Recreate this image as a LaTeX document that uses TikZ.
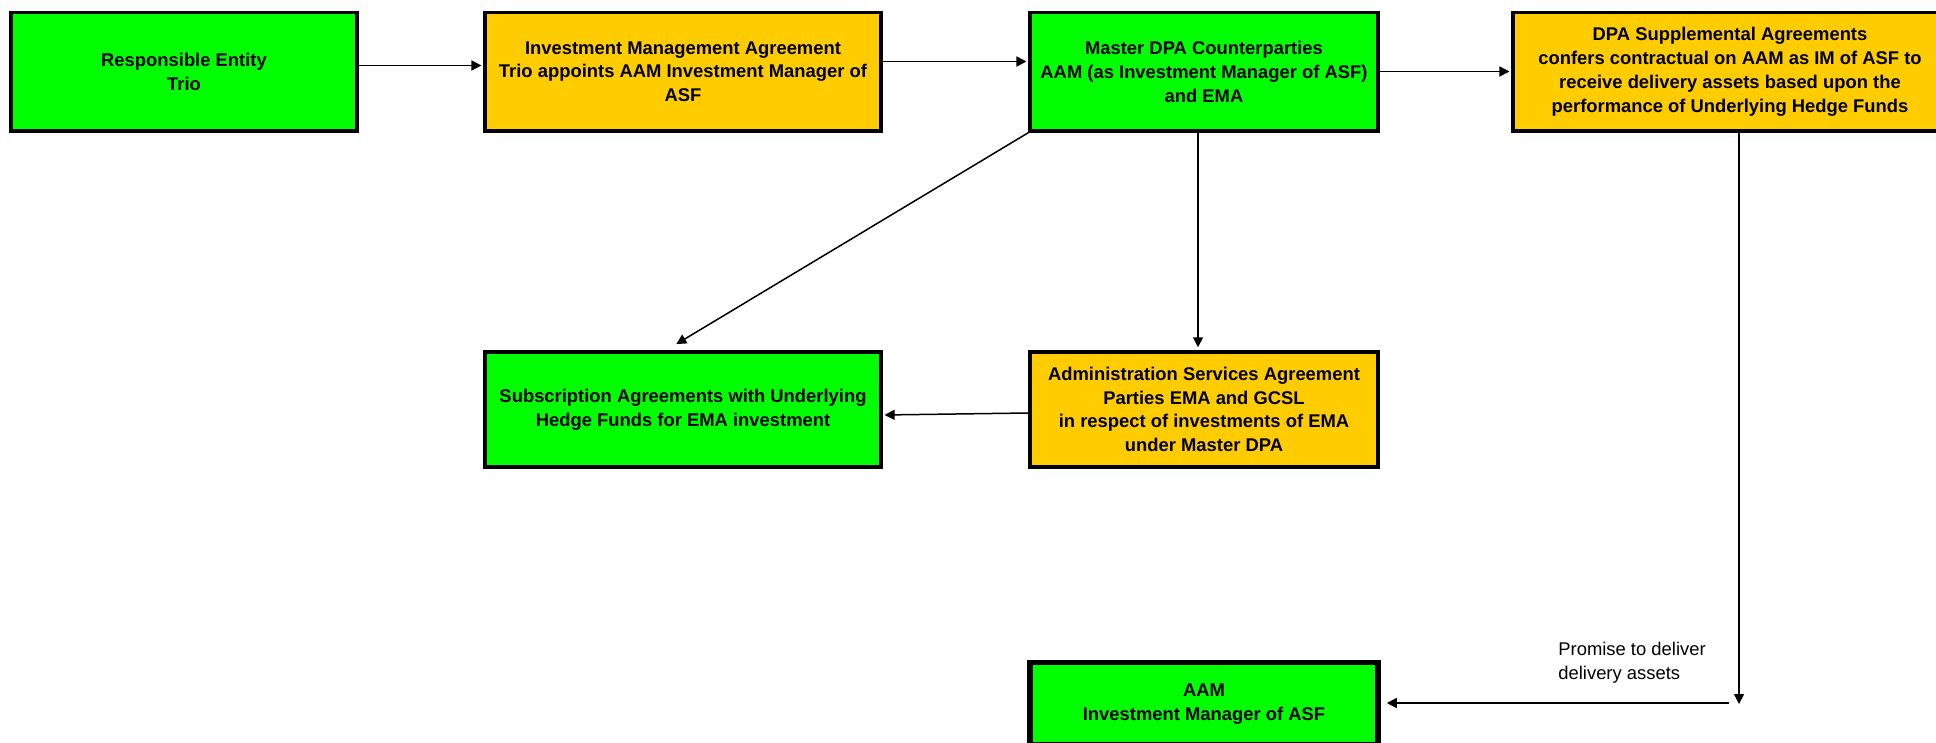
\documentclass[tikz,border=0pt]{standalone}
\usepackage{fontspec}
\setmainfont{Liberation Sans}
\usetikzlibrary{arrows.meta}
\definecolor{boxgreen}{HTML}{00FF00}
\definecolor{boxorange}{HTML}{FFCC00}
\tikzset{
  box/.style={draw=black, line width=1.75pt, align=center, inner sep=0pt,
    font=\fontsize{9.2}{11.9}\selectfont\bfseries, text=black},
  gbox/.style={box, fill=boxgreen},
  obox/.style={box, fill=boxorange},
  arr/.style={line width=0.75pt, -{Triangle[length=5pt,width=5pt]}},
  lbl/.style={align=left, inner sep=0pt, font=\fontsize{9.2}{11.9}\selectfont}
}
\begin{document}
\begin{tikzpicture}[x=0.5pt,y=-0.5pt]
\clip (0,0) rectangle (1936,743);
\fill[white] (0,0) rectangle (1936,743);
% row 1
\node[gbox, minimum width=173pt, minimum height=59.25pt] (b1) at (184,71.75)
  {Responsible Entity\\Trio};
\node[obox, minimum width=198pt, minimum height=59.25pt] (b2) at (683,71.75)
  {Investment Management Agreement\\Trio appoints AAM Investment Manager of\\ASF};
\node[gbox, minimum width=174pt, minimum height=59.25pt] (b3) at (1204,71.75)
  {Master DPA Counterparties\\AAM (as Investment Manager of ASF)\\and EMA};
\node[obox, minimum width=217pt, minimum height=59.25pt] (b4) at (1730,71.75)
  {DPA Supplemental Agreements\\confers contractual on AAM as IM of ASF to\\receive delivery assets based upon the\\performance of Underlying Hedge Funds};
% row 2
\node[gbox, minimum width=198pt, minimum height=57.5pt] (b5) at (683,409.5)
  {Subscription Agreements with Underlying\\Hedge Funds for EMA investment};
\node[obox, minimum width=174pt, minimum height=57.5pt] (b6) at (1204,409.5)
  {Administration Services Agreement\\Parties EMA and GCSL\\in respect of investments of EMA\\under Master DPA};
% row 3
\node[gbox, line width=2.75pt, minimum width=174pt, minimum height=41.25pt] (b7) at (1204,703.75)
  {AAM\\Investment Manager of ASF};
% label
\node[lbl, anchor=north west] (lab) at (1558,642) {Promise to deliver\\delivery assets};
% connectors
\draw[arr, shorten >=0.9pt] (b1.east |- 0,65.5) -- (b2.west |- 0,65.5);
\draw[arr, shorten >=0.9pt] (b2.east |- 0,61.5) -- (b3.west |- 0,61.5);
\draw[arr, shorten >=0.9pt] (b3.east |- 0,71.5) -- (b4.west |- 0,71.5);
\draw[arr, shorten >=6pt] (b3.south west) -- ([xshift=-8.5pt]b5.north);
\draw[arr, shorten >=1.5pt] (b3.south -| 1198,0) -- (b6.north -| 1198,0);
\draw[arr, shorten >=0.9pt] (b6.west |- 0,413) -- (b5.east |- 0,415);
\coordinate (c1) at (1739,704);
\coordinate (c2) at (1729,703);
\draw[arr] (b4.south -| c1) -- (c1);
\draw[arr, shorten >=3pt] (c2) -- (b7.east |- c2);
\end{tikzpicture}
\end{document}
